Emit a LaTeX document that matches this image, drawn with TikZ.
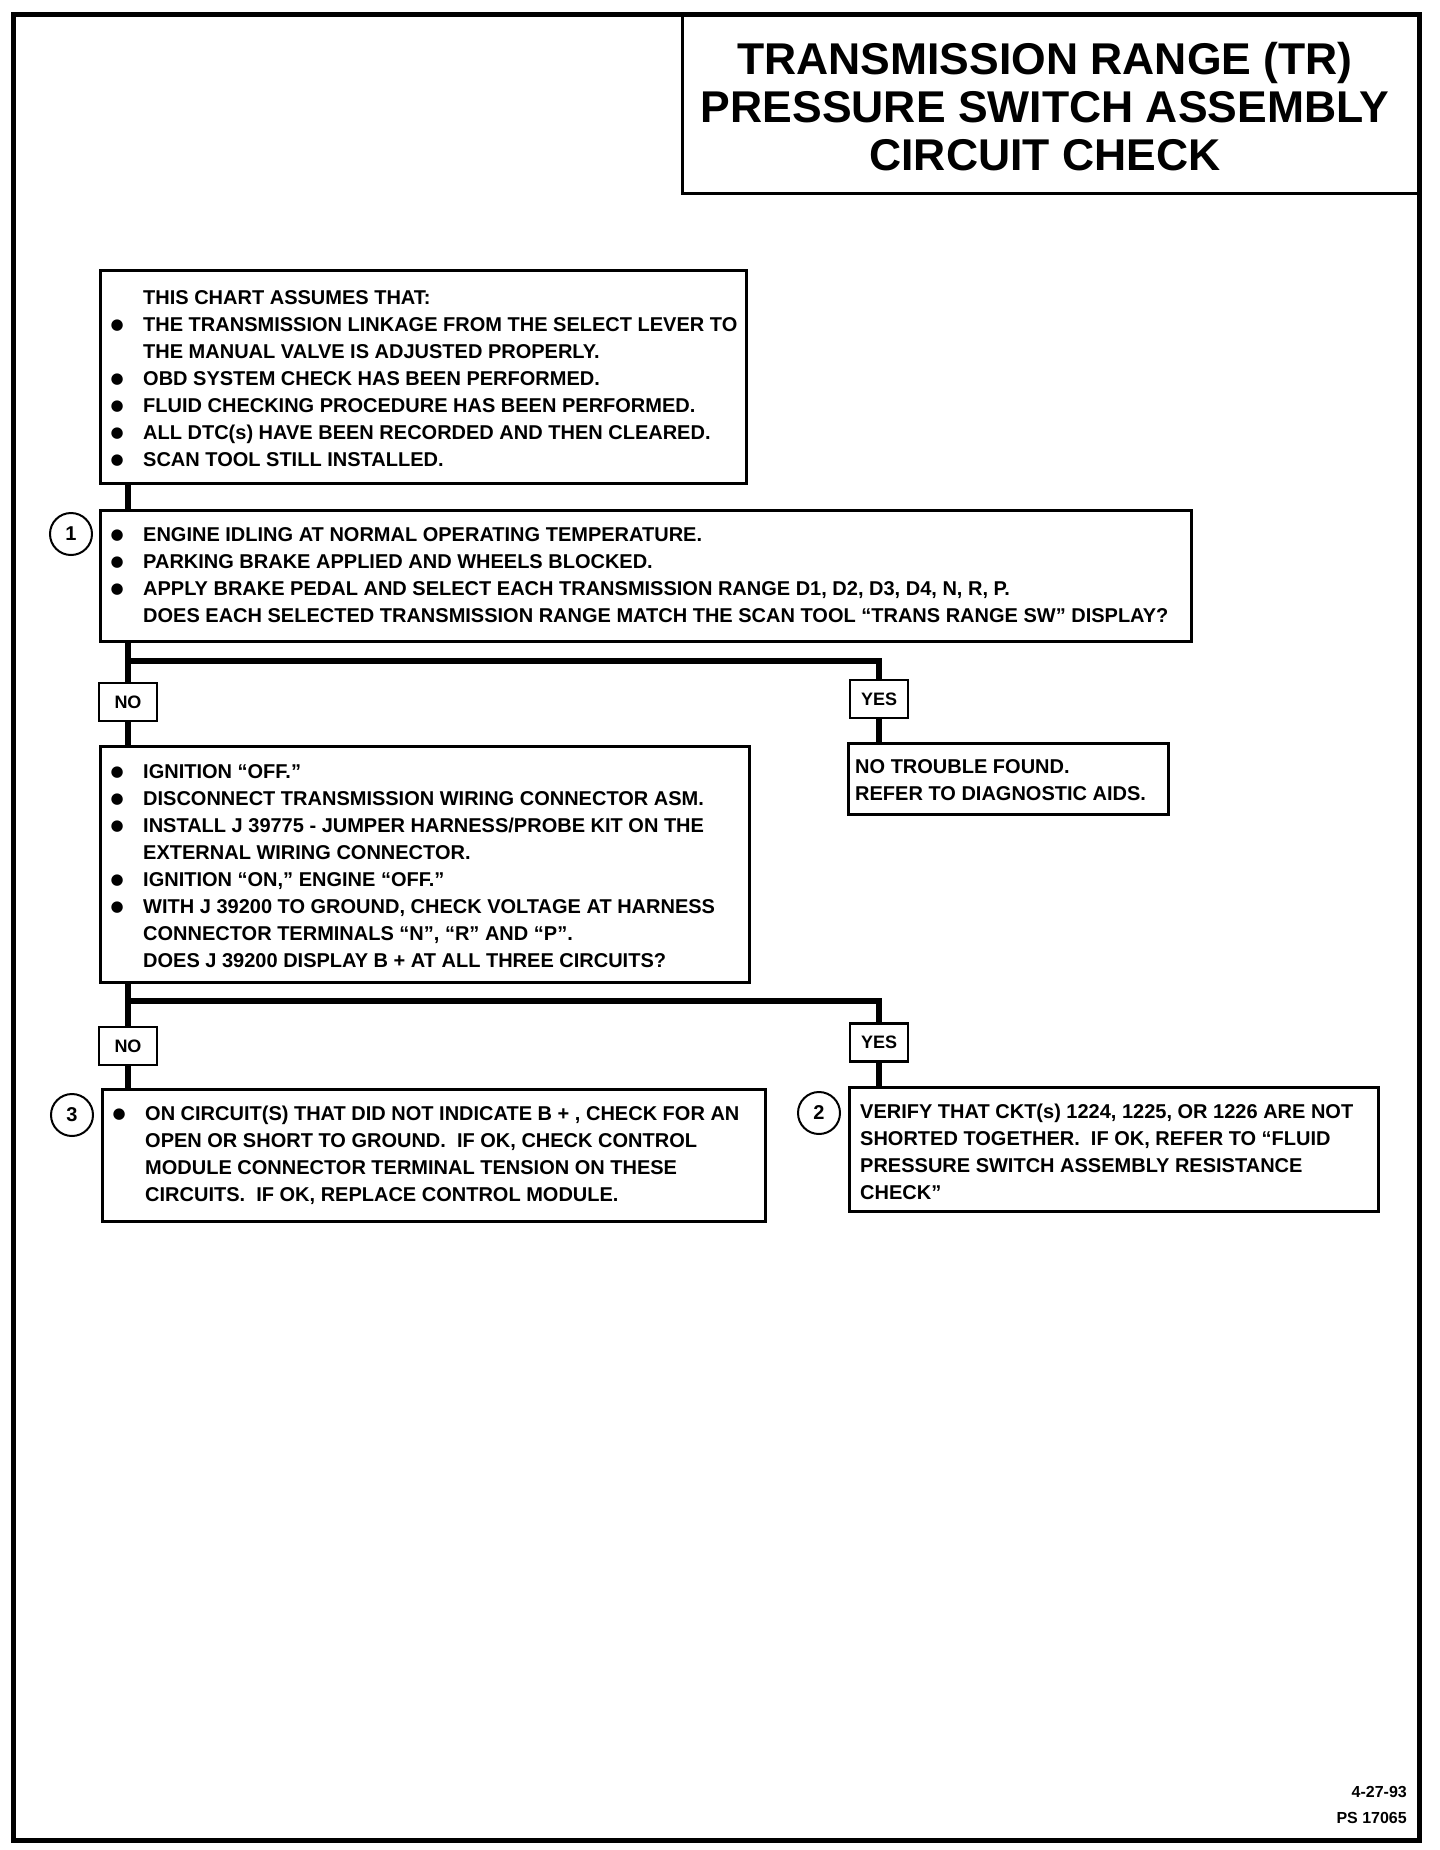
\documentclass[tikz,border=0pt]{standalone}
\usepackage{fontspec}
\setmainfont{Liberation Sans}
\newfontfamily\symf{DejaVu Sans}
\usetikzlibrary{calc}
\newcommand\bodyfont{\fontsize{20}{27}\selectfont\bfseries}
\newcommand\bulglyph{\raisebox{1.5pt}{\symf\fontsize{15}{15}\selectfont ●}}
\newcommand\bl[1]{\strut\makebox[26pt][c]{\bulglyph}\hspace*{13pt}#1}
\newcommand\nl[1]{\strut\hspace*{39pt}#1}
\newcommand\pl[1]{\strut#1}
\begin{document}
\begin{tikzpicture}[x=1pt,y=-1pt,
  box/.style={draw, line width=2.5pt, anchor=north west, inner sep=0pt},
  txt/.style={anchor=north west, inner sep=0pt, align=left, font=\bodyfont},
  lab/.style={draw, line width=2.5pt, minimum width=58pt, minimum height=38pt, inner sep=0pt, font=\fontsize{18}{18}\selectfont\bfseries},
  numc/.style={circle, draw, line width=2pt, minimum size=42pt, inner sep=0pt, font=\fontsize{20}{20}\selectfont\bfseries},
  conn/.style={line width=6.5pt}]
\useasboundingbox (0,0) rectangle (1440,1850);
\fill[white] (0,0) rectangle (1440,1850);
% frame
\node[box, line width=5pt, minimum width=1406pt, minimum height=1826pt] (frame) at (11,12) {};
% title
\node[box, minimum width=736pt, minimum height=180pt] (tb) at (681,12) {};
\node[align=center, inner sep=0pt, font=\fontsize{44.5}{48}\selectfont\bfseries] (tt) at (1045,113.3)
  {\strut TRANSMISSION RANGE (TR)\\ \strut PRESSURE SWITCH ASSEMBLY\\ \strut CIRCUIT CHECK};
% box A
\node[box, minimum width=646pt, minimum height=213pt] (ba) at (99,269) {};
\node[txt] (ta) at (104,285.3) {%
\nl{THIS CHART ASSUMES THAT:}\\
\bl{THE TRANSMISSION LINKAGE FROM THE SELECT LEVER TO}\\
\nl{THE MANUAL VALVE IS ADJUSTED PROPERLY.}\\
\bl{OBD SYSTEM CHECK HAS BEEN PERFORMED.}\\
\bl{FLUID CHECKING PROCEDURE HAS BEEN PERFORMED.}\\
\bl{ALL DTC(s) HAVE BEEN RECORDED AND THEN CLEARED.}\\
\bl{SCAN TOOL STILL INSTALLED.}};
% box 1
\node[box, minimum width=1091pt, minimum height=131pt] (b1) at (99,509) {};
\node[txt] (t1) at (104,522.3) {%
\bl{ENGINE IDLING AT NORMAL OPERATING TEMPERATURE.}\\
\bl{PARKING BRAKE APPLIED AND WHEELS BLOCKED.}\\
\bl{APPLY BRAKE PEDAL AND SELECT EACH TRANSMISSION RANGE D1, D2, D3, D4, N, R, P.}\\
\nl{DOES EACH SELECTED TRANSMISSION RANGE MATCH THE SCAN TOOL “TRANS RANGE SW” DISPLAY?}};
\node[numc] (c1) at (71,534) {1};
% labels first branch
\node[lab] (no1) at (128,702) {NO};
\node[lab] (yes1) at (879,699) {YES};
% no trouble found
\node[box, minimum width=320pt, minimum height=71pt] (ntf) at (847,742) {};
\node[txt] (tn) at (855,754.3) {%
\pl{NO TROUBLE FOUND.}\\
\pl{REFER TO DIAGNOSTIC AIDS.}};
% box 2
\node[box, minimum width=649pt, minimum height=236pt] (b2) at (99,745) {};
\node[txt] (t2) at (104,759.3) {%
\bl{IGNITION “OFF.”}\\
\bl{DISCONNECT TRANSMISSION WIRING CONNECTOR ASM.}\\
\bl{INSTALL J 39775 - JUMPER HARNESS/PROBE KIT ON THE}\\
\nl{EXTERNAL WIRING CONNECTOR.}\\
\bl{IGNITION “ON,” ENGINE “OFF.”}\\
\bl{WITH J 39200 TO GROUND, CHECK VOLTAGE AT HARNESS}\\
\nl{CONNECTOR TERMINALS “N”, “R” AND “P”.}\\
\nl{DOES J 39200 DISPLAY B + AT ALL THREE CIRCUITS?}};
% labels second branch
\node[lab] (no2) at (128,1046) {NO};
\node[lab] (yes2) at (879,1042.5) {YES};
% box 3
\node[box, minimum width=663pt, minimum height=132pt] (b3) at (101,1088) {};
\node[txt] (t3) at (106,1101.3) {%
\bl{ON CIRCUIT(S) THAT DID NOT INDICATE B + , CHECK FOR AN}\\
\nl{OPEN OR SHORT TO GROUND.\ \ IF OK, CHECK CONTROL}\\
\nl{MODULE CONNECTOR TERMINAL TENSION ON THESE}\\
\nl{CIRCUITS.\ \ IF OK, REPLACE CONTROL MODULE.}};
\node[numc] (c3) at (72,1115) {3};
% box 4
\node[box, minimum width=529pt, minimum height=124pt] (b4) at (848,1086) {};
\node[txt] (t4) at (860,1099.3) {%
\pl{VERIFY THAT CKT(s) 1224, 1225, OR 1226 ARE NOT}\\
\pl{SHORTED TOGETHER.\ \ IF OK, REFER TO “FLUID}\\
\pl{PRESSURE SWITCH ASSEMBLY RESISTANCE}\\
\pl{CHECK”}};
\node[numc] (c2) at (819,1113) {2};
% date
\node[anchor=north east, align=right, inner sep=0pt, font=\fontsize{16}{26}\selectfont\bfseries] (date) at (1407,1779)
  {\strut 4-27-93\\ \strut PS 17065};
% connectors
\draw[conn] (ba.south -| no1) -- (b1.north -| no1);
\coordinate (j1) at (128,661);
\draw[conn] (b1.south -| no1) -- (no1.north);
\draw[conn] (j1) -| (yes1.north);
\draw[conn] (no1.south) -- (b2.north -| no1);
\draw[conn] (yes1.south) -- (ntf.north -| yes1);
\coordinate (j2) at (128,1001);
\draw[conn] (b2.south -| no2) -- (no2.north);
\draw[conn] (j2) -| (yes2.north);
\draw[conn] (no2.south) -- (b3.north -| no2);
\draw[conn] (yes2.south) -- (b4.north -| yes2);
\end{tikzpicture}
\end{document}
